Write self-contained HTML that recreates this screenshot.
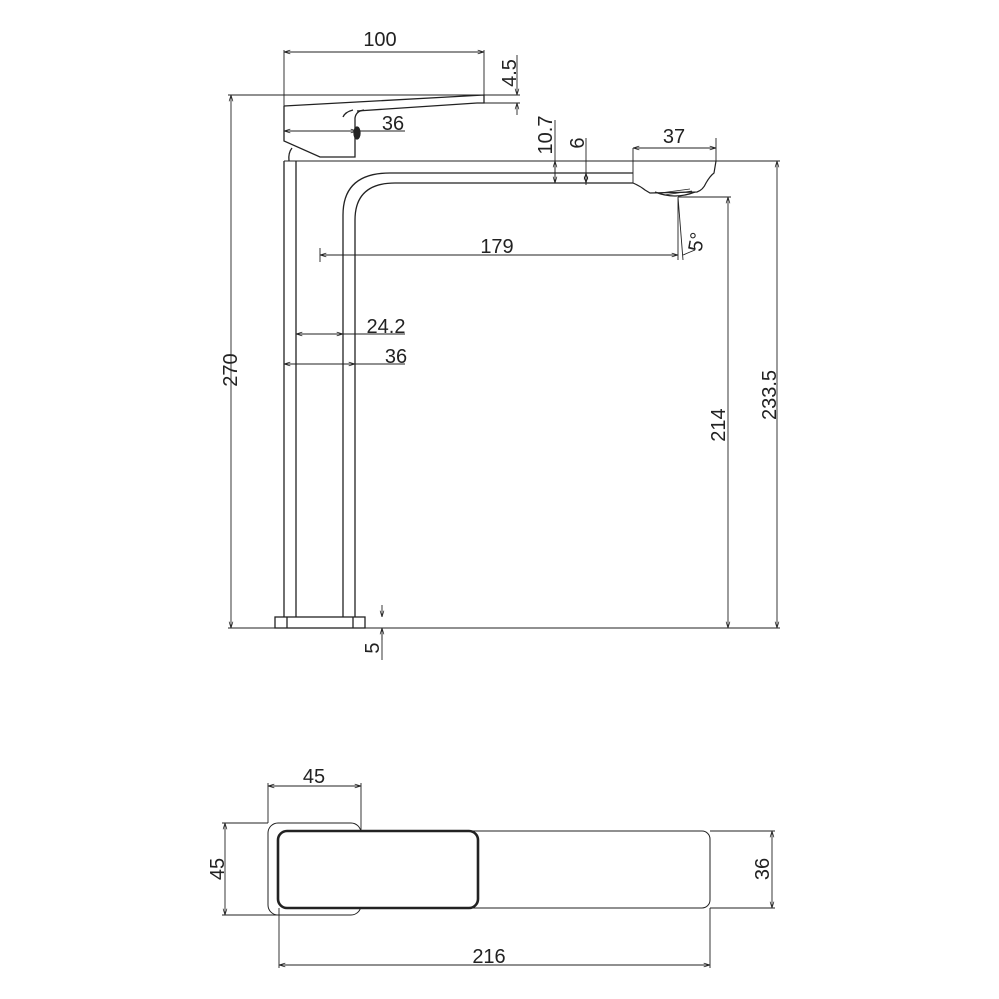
<!DOCTYPE html>
<html><head><meta charset="utf-8"><style>
html,body{margin:0;padding:0;background:#fff}
svg{display:block}
text{font-family:"Liberation Sans",sans-serif;font-size:20px;fill:#222}
</style></head><body>
<svg width="999" height="999" viewBox="0 0 999 999" xmlns="http://www.w3.org/2000/svg">
<defs>
<marker id="a" viewBox="0 0 10 10" refX="10" refY="5" markerWidth="7" markerHeight="7" orient="auto-start-reverse"><path d="M0,2 L10,5 L0,8" fill="none" stroke="#222" stroke-width="1.2"/></marker>
</defs>
<g fill="none" stroke="#222" stroke-width="1.3">
<path d="M284,106 L484,95 L484,103 L477,103" />
<path d="M357,111 L477,103" />
<path d="M284,106 L284,141 L320,157 L355,157 L355,118 Q356,111 364,110" />
<path d="M353,110 Q345,112 343,117" />
<ellipse cx="357" cy="133" rx="3" ry="6" fill="#222"/>
<path d="M292,148 Q288,153 289,161" />
<path d="M284,161 L284,617 M296,161 L296,617" />
<path d="M343,617 L343,215 Q343,173 390,173 L633,173" />
<path d="M355,617 L355,220 Q355,183 395,183 L633,183" />
<path d="M633,183 Q640,186 645,190 L650,193 L697,192 Q703,190 706,183 Q710,176 714,173 L716,161" stroke-width="1.2"/>
<path d="M655,192 Q675,200 695,192" />
<path d="M660,193 L690,189 M664,195 L692,191" stroke-width="0.8"/>
<rect x="275" y="617" width="90" height="11"/>
<path d="M287,617 V628 M353,617 V628" />
<path d="M228,628 H780" stroke-width="1"/>
<path d="M284,161 H780" stroke-width="1"/>
<path d="M228,95 H520 M477,103 H520" stroke-width="1"/>
</g>
<g fill="none" stroke="#222" stroke-width="0.9">
<path d="M284,50 V106 M484,50 V95"/>
<path d="M284,52 H484" marker-start="url(#a)" marker-end="url(#a)"/>
<path d="M517,55 V95" marker-end="url(#a)"/>
<path d="M517,115 V103" marker-end="url(#a)"/>
<path d="M284,131 H357" marker-start="url(#a)" marker-end="url(#a)"/>
<path d="M357,131 H405"/>
<path d="M231,95 V628" marker-start="url(#a)" marker-end="url(#a)"/>
<path d="M555,120 V183" />
<path d="M555,161 V183" marker-start="url(#a)" marker-end="url(#a)"/>
<path d="M586,138 V185" />
<path d="M586,173 V183" marker-start="url(#a)" marker-end="url(#a)"/>
<path d="M633,148 V183 M716,138 V161"/>
<path d="M633,148 H716" marker-start="url(#a)" marker-end="url(#a)"/>
<path d="M777,161 V628" marker-start="url(#a)" marker-end="url(#a)"/>
<path d="M678,197 H731"/>
<path d="M728,197 V628" marker-start="url(#a)" marker-end="url(#a)"/>
<path d="M320,248 V262"/>
<path d="M320,255 H678" marker-start="url(#a)" marker-end="url(#a)"/>
<path d="M678,197 V260 M678,197 L683,260"/>
<path d="M683,255 Q690,252 695,250"/>
<path d="M296,334 H343" marker-start="url(#a)" marker-end="url(#a)"/>
<path d="M343,334 H405"/>
<path d="M284,364 H355" marker-start="url(#a)" marker-end="url(#a)"/>
<path d="M355,364 H405"/>
<path d="M382,605 V617" marker-end="url(#a)"/>
<path d="M382,640 V628" marker-end="url(#a)"/>
<path d="M382,628 V660"/>
</g>
<g fill="none" stroke="#222">
<rect x="268" y="823" width="93" height="92" rx="10" stroke-width="1"/>
<rect x="278" y="831" width="432" height="77" rx="8" stroke-width="1" fill="#fff"/>
<rect x="278" y="831" width="200" height="77" rx="9" stroke-width="2.6" fill="#fff"/>
</g>
<g fill="none" stroke="#222" stroke-width="0.9">
<path d="M268,783 V823 M361,783 V832"/>
<path d="M268,786 H361" marker-start="url(#a)" marker-end="url(#a)"/>
<path d="M222,823 H268 M222,915 H278"/>
<path d="M225,823 V915" marker-start="url(#a)" marker-end="url(#a)"/>
<path d="M710,831 H775 M710,908 H775"/>
<path d="M772,831 V908" marker-start="url(#a)" marker-end="url(#a)"/>
<path d="M279,908 V968 M710,908 V968"/>
<path d="M279,965 H710" marker-start="url(#a)" marker-end="url(#a)"/>
</g>
<text x="380" y="52" text-anchor="middle" dy="-6">100</text>
<text transform="translate(516,73) rotate(-90)" text-anchor="middle">4.5</text>
<text x="393" y="130" text-anchor="middle">36</text>
<text transform="translate(237,370) rotate(-90)" text-anchor="middle">270</text>
<text transform="translate(552,135) rotate(-90)" text-anchor="middle">10.7</text>
<text transform="translate(584,143) rotate(-90)" text-anchor="middle">6</text>
<text x="674" y="143" text-anchor="middle">37</text>
<text transform="translate(776,395) rotate(-90)" text-anchor="middle">233.5</text>
<text transform="translate(725,425) rotate(-90)" text-anchor="middle">214</text>
<text x="497" y="253" text-anchor="middle">179</text>
<text transform="translate(703,243) rotate(-80)" text-anchor="middle">5°</text>
<text x="386" y="333" text-anchor="middle">24.2</text>
<text x="396" y="363" text-anchor="middle">36</text>
<text transform="translate(379,648) rotate(-90)" text-anchor="middle">5</text>
<text x="314" y="783" text-anchor="middle">45</text>
<text transform="translate(224,869) rotate(-90)" text-anchor="middle">45</text>
<text transform="translate(769,869) rotate(-90)" text-anchor="middle">36</text>
<text x="489" y="963" text-anchor="middle">216</text>
</svg>
</body></html>
